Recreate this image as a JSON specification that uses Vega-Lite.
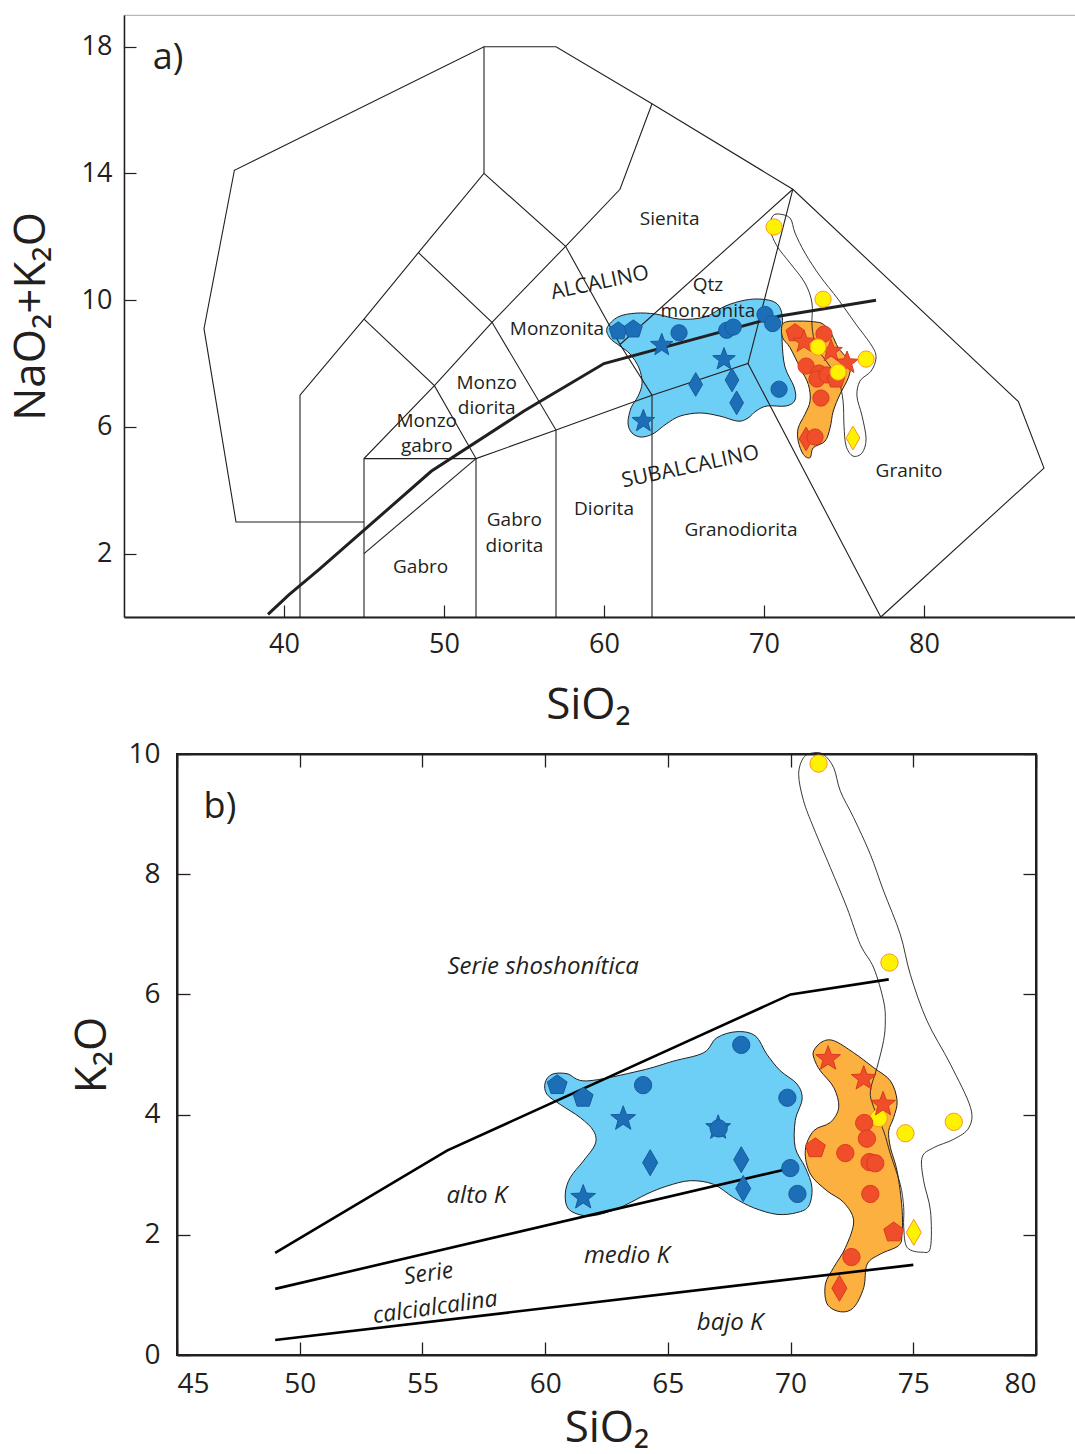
{
"$schema": "https://vega.github.io/schema/vega-lite/v6.json",
"background": "white",
"padding": {"left": 8, "top": 14, "right": 0, "bottom": 0},
"config": {
  "font": "Open Sans",
  "view": {"stroke": null},
  "axis": {"grid": false, "domainColor": "#231f20", "tickColor": "#231f20", "labelColor": "#231f20", "titleColor": "#231f20", "labelFont": "Open Sans", "titleFont": "Open Sans", "titleFontWeight": "normal"},
  "text": {"font": "Open Sans", "color": "#231f20", "align": "center", "baseline": "middle"}
},
"datasets": {
  "tasLines": [
    {"p":"o","i":0,"x":45,"y":3},{"p":"o","i":1,"x":37,"y":3},{"p":"o","i":2,"x":35,"y":9.1},{"p":"o","i":3,"x":36.9,"y":14.1},{"p":"o","i":4,"x":52.5,"y":18},{"p":"o","i":5,"x":57,"y":18},{"p":"o","i":6,"x":63,"y":16.2},{"p":"o","i":7,"x":71.8,"y":13.5},{"p":"o","i":8,"x":85.9,"y":6.8},{"p":"o","i":9,"x":87.5,"y":4.7},{"p":"o","i":10,"x":77.3,"y":0},
    {"p":"a","i":0,"x":41,"y":0},{"p":"a","i":1,"x":41,"y":7},{"p":"a","i":2,"x":45,"y":9.4},{"p":"a","i":3,"x":48.4,"y":11.5},{"p":"a","i":4,"x":52.5,"y":14},{"p":"a","i":5,"x":52.5,"y":18},
    {"p":"b","i":0,"x":45,"y":0},{"p":"b","i":1,"x":45,"y":5},{"p":"b","i":2,"x":49.4,"y":7.3},{"p":"b","i":3,"x":53,"y":9.3},{"p":"b","i":4,"x":57.6,"y":11.7},{"p":"b","i":5,"x":61,"y":13.5},{"p":"b","i":6,"x":63,"y":16.2},
    {"p":"c","i":0,"x":45,"y":9.4},{"p":"c","i":1,"x":49.4,"y":7.3},{"p":"c","i":2,"x":52,"y":5},{"p":"c","i":3,"x":52,"y":0},
    {"p":"d","i":0,"x":48.4,"y":11.5},{"p":"d","i":1,"x":53,"y":9.3},{"p":"d","i":2,"x":57,"y":5.9},{"p":"d","i":3,"x":57,"y":0},
    {"p":"e","i":0,"x":52.5,"y":14},{"p":"e","i":1,"x":57.6,"y":11.7},{"p":"e","i":2,"x":61,"y":8.6},{"p":"e","i":3,"x":63,"y":7},{"p":"e","i":4,"x":63,"y":0},
    {"p":"f","i":0,"x":45,"y":5},{"p":"f","i":1,"x":52,"y":5},{"p":"f","i":2,"x":57,"y":5.9},{"p":"f","i":3,"x":63,"y":7},{"p":"f","i":4,"x":69,"y":8},{"p":"f","i":5,"x":77.3,"y":0},
    {"p":"g","i":0,"x":69,"y":8},{"p":"g","i":1,"x":71.8,"y":13.5},
    {"p":"h","i":0,"x":61,"y":8.6},{"p":"h","i":1,"x":71.8,"y":13.5},
    {"p":"k","i":0,"x":45,"y":2},{"p":"k","i":1,"x":52,"y":5}
  ],
  "tasBold": [
    {"i":0,"x":39,"y":0.08},{"i":1,"x":40.3,"y":0.7},{"i":2,"x":42.2,"y":1.5},{"i":3,"x":49.2,"y":4.6},{"i":4,"x":55,"y":6.5},{"i":5,"x":60,"y":8},{"i":6,"x":71,"y":9.5},{"i":7,"x":77,"y":10}
  ],
  "blobsA": [
    {"b":"blue","i":0,"x":60.19,"y":9.12},{"b":"blue","i":1,"x":60.88,"y":9.47},{"b":"blue","i":2,"x":62.0,"y":9.59},{"b":"blue","i":3,"x":63.25,"y":9.56},{"b":"blue","i":4,"x":64.75,"y":9.4},{"b":"blue","i":5,"x":66.31,"y":9.47},{"b":"blue","i":6,"x":67.56,"y":9.81},{"b":"blue","i":7,"x":68.81,"y":10.0},{"b":"blue","i":8,"x":69.88,"y":10.03},{"b":"blue","i":9,"x":70.75,"y":9.91},{"b":"blue","i":10,"x":71.13,"y":9.53},{"b":"blue","i":11,"x":71.13,"y":8.71},{"b":"blue","i":12,"x":71.31,"y":7.89},{"b":"blue","i":13,"x":71.88,"y":7.26},{"b":"blue","i":14,"x":71.94,"y":6.85},{"b":"blue","i":15,"x":71.38,"y":6.66},{"b":"blue","i":16,"x":70.19,"y":6.66},{"b":"blue","i":17,"x":69.5,"y":6.5},{"b":"blue","i":18,"x":69.0,"y":6.28},{"b":"blue","i":19,"x":68.38,"y":6.18},{"b":"blue","i":20,"x":67.25,"y":6.34},{"b":"blue","i":21,"x":66.0,"y":6.44},{"b":"blue","i":22,"x":64.75,"y":6.34},{"b":"blue","i":23,"x":63.88,"y":6.09},{"b":"blue","i":24,"x":63.06,"y":5.78},{"b":"blue","i":25,"x":62.31,"y":5.68},{"b":"blue","i":26,"x":61.75,"y":5.81},{"b":"blue","i":27,"x":61.5,"y":6.12},{"b":"blue","i":28,"x":61.69,"y":6.6},{"b":"blue","i":29,"x":62.13,"y":6.97},{"b":"blue","i":30,"x":62.38,"y":7.38},{"b":"blue","i":31,"x":62.19,"y":7.86},{"b":"blue","i":32,"x":61.63,"y":8.3},{"b":"blue","i":33,"x":61.0,"y":8.55},{"b":"blue","i":34,"x":60.38,"y":8.8},
    {"b":"orange","i":0,"x":71.11,"y":9.18},{"b":"orange","i":1,"x":71.42,"y":9.32},{"b":"orange","i":2,"x":72.25,"y":9.34},{"b":"orange","i":3,"x":73.08,"y":9.32},{"b":"orange","i":4,"x":73.71,"y":9.24},{"b":"orange","i":5,"x":74.23,"y":8.92},{"b":"orange","i":6,"x":74.64,"y":8.5},{"b":"orange","i":7,"x":75.17,"y":8.18},{"b":"orange","i":8,"x":75.42,"y":7.97},{"b":"orange","i":9,"x":75.27,"y":7.55},{"b":"orange","i":10,"x":74.75,"y":7.03},{"b":"orange","i":11,"x":74.33,"y":6.5},{"b":"orange","i":12,"x":74.13,"y":5.97},{"b":"orange","i":13,"x":73.81,"y":5.55},{"b":"orange","i":14,"x":73.08,"y":5.34},{"b":"orange","i":15,"x":72.88,"y":5.03},{"b":"orange","i":16,"x":72.46,"y":5.13},{"b":"orange","i":17,"x":72.14,"y":5.55},{"b":"orange","i":18,"x":72.14,"y":5.97},{"b":"orange","i":19,"x":72.56,"y":6.4},{"b":"orange","i":20,"x":72.88,"y":6.82},{"b":"orange","i":21,"x":72.77,"y":7.34},{"b":"orange","i":22,"x":72.25,"y":7.87},{"b":"orange","i":23,"x":71.63,"y":8.5},{"b":"orange","i":24,"x":71.17,"y":8.81},
    {"b":"yellow","i":0,"x":70.88,"y":12.72},{"b":"yellow","i":1,"x":71.63,"y":12.59},{"b":"yellow","i":2,"x":71.94,"y":12.12},{"b":"yellow","i":3,"x":72.56,"y":11.49},{"b":"yellow","i":4,"x":73.5,"y":10.76},{"b":"yellow","i":5,"x":74.63,"y":10.03},{"b":"yellow","i":6,"x":75.69,"y":9.28},{"b":"yellow","i":7,"x":76.75,"y":8.55},{"b":"yellow","i":8,"x":77.0,"y":8.17},{"b":"yellow","i":9,"x":76.69,"y":7.76},{"b":"yellow","i":10,"x":76.0,"y":7.45},{"b":"yellow","i":11,"x":75.81,"y":6.97},{"b":"yellow","i":12,"x":76.13,"y":6.34},{"b":"yellow","i":13,"x":76.38,"y":5.62},{"b":"yellow","i":14,"x":76.13,"y":5.18},{"b":"yellow","i":15,"x":75.56,"y":5.08},{"b":"yellow","i":16,"x":75.13,"y":5.4},{"b":"yellow","i":17,"x":75.0,"y":6.03},{"b":"yellow","i":18,"x":74.94,"y":6.82},{"b":"yellow","i":19,"x":74.63,"y":7.51},{"b":"yellow","i":20,"x":73.88,"y":8.08},{"b":"yellow","i":21,"x":73.25,"y":8.55},{"b":"yellow","i":22,"x":73.0,"y":9.18},{"b":"yellow","i":23,"x":73.0,"y":9.91},{"b":"yellow","i":24,"x":72.56,"y":10.54},{"b":"yellow","i":25,"x":71.63,"y":11.17},{"b":"yellow","i":26,"x":70.81,"y":11.71},{"b":"yellow","i":27,"x":70.38,"y":12.24},{"b":"yellow","i":28,"x":70.5,"y":12.62}
  ],
  "ptsA": [
    {"g":"b","k":"pentagon","x":60.89,"y":9.02},{"g":"b","k":"pentagon","x":61.83,"y":9.08},{"g":"b","k":"circle","x":64.69,"y":8.97},{"g":"b","k":"circle","x":67.67,"y":9.05},{"g":"b","k":"circle","x":68.08,"y":9.15},{"g":"b","k":"circle","x":70.06,"y":9.55},{"g":"b","k":"circle","x":70.54,"y":9.26},{"g":"b","k":"circle","x":70.94,"y":7.19},{"g":"b","k":"star","x":63.61,"y":8.58},{"g":"b","k":"star","x":67.5,"y":8.13},{"g":"b","k":"star","x":62.46,"y":6.18},{"g":"b","k":"diamond","x":65.73,"y":7.34},{"g":"b","k":"diamond","x":68.0,"y":7.48},{"g":"b","k":"diamond","x":68.29,"y":6.76},
    {"g":"r","k":"pentagon","x":71.94,"y":8.96},{"g":"r","k":"star","x":72.5,"y":8.68},{"g":"r","k":"circle","x":73.75,"y":8.93},{"g":"r","k":"star","x":74.19,"y":8.39},{"g":"r","k":"star","x":75.19,"y":8.02},{"g":"r","k":"circle","x":72.63,"y":7.92},{"g":"r","k":"circle","x":73.44,"y":7.7},{"g":"r","k":"circle","x":73.31,"y":7.51},{"g":"r","k":"circle","x":73.94,"y":7.64},{"g":"r","k":"pentagon","x":74.5,"y":7.5},{"g":"r","k":"circle","x":73.56,"y":6.91},{"g":"r","k":"diamond","x":72.63,"y":5.62},{"g":"r","k":"circle","x":73.19,"y":5.68},
    {"g":"y","k":"circle","x":70.63,"y":12.31},{"g":"y","k":"circle","x":73.69,"y":10.03},{"g":"y","k":"circle","x":73.38,"y":8.52},{"g":"y","k":"circle","x":74.63,"y":7.73},{"g":"y","k":"circle","x":76.38,"y":8.14},{"g":"y","k":"diamond","x":75.56,"y":5.65}
  ],
  "labelsA": [
    {"t":"Sienita","x":64.1,"y":12.56},{"t":"Qtz","x":66.5,"y":10.48},{"t":"monzonita","x":66.5,"y":9.66},{"t":"Monzonita","x":57.06,"y":9.09},{"t":"Monzo","x":52.67,"y":7.39},{"t":"diorita","x":52.67,"y":6.6},{"t":"Monzo","x":48.92,"y":6.18},{"t":"gabro","x":48.92,"y":5.4},{"t":"Diorita","x":60,"y":3.41},{"t":"Gabro","x":54.4,"y":3.06},{"t":"diorita","x":54.4,"y":2.24},{"t":"Gabro","x":48.54,"y":1.58},{"t":"Granodiorita","x":68.56,"y":2.75},{"t":"Granito","x":79.06,"y":4.6}
  ],
  "rotA": [{"t":"ALCALINO","x":59.75,"y":10.54},{"t":"SUBALCALINO","x":65.4,"y":4.73}],
  "tagA": [{"t":"a)","x":32.75,"y":17.64}],
  "kLines": [
    {"p":"s","i":0,"x":49,"y":1.7},{"p":"s","i":1,"x":56,"y":3.4},{"p":"s","i":2,"x":70,"y":6.0},{"p":"s","i":3,"x":74,"y":6.25},
    {"p":"h","i":0,"x":49,"y":1.1},{"p":"h","i":1,"x":69.7,"y":3.08},
    {"p":"m","i":0,"x":49,"y":0.25},{"p":"m","i":1,"x":75,"y":1.5}
  ],
  "blobsB": [
    {"b":"blue","i":0,"x":60.0,"y":4.53},{"b":"blue","i":1,"x":60.28,"y":4.67},{"b":"blue","i":2,"x":60.89,"y":4.68},{"b":"blue","i":3,"x":61.7,"y":4.56},{"b":"blue","i":4,"x":63.87,"y":4.73},{"b":"blue","i":5,"x":65.23,"y":4.89},{"b":"blue","i":6,"x":66.46,"y":5.03},{"b":"blue","i":7,"x":67.0,"y":5.28},{"b":"blue","i":8,"x":67.82,"y":5.38},{"b":"blue","i":9,"x":68.56,"y":5.31},{"b":"blue","i":10,"x":69.04,"y":5.0},{"b":"blue","i":11,"x":69.58,"y":4.73},{"b":"blue","i":12,"x":70.26,"y":4.51},{"b":"blue","i":13,"x":70.47,"y":4.26},{"b":"blue","i":14,"x":70.19,"y":3.9},{"b":"blue","i":15,"x":70.19,"y":3.45},{"b":"blue","i":16,"x":70.6,"y":3.12},{"b":"blue","i":17,"x":70.87,"y":2.79},{"b":"blue","i":18,"x":70.74,"y":2.48},{"b":"blue","i":19,"x":70.26,"y":2.37},{"b":"blue","i":20,"x":69.45,"y":2.34},{"b":"blue","i":21,"x":68.49,"y":2.45},{"b":"blue","i":22,"x":67.68,"y":2.62},{"b":"blue","i":23,"x":66.86,"y":2.84},{"b":"blue","i":24,"x":65.91,"y":2.9},{"b":"blue","i":25,"x":64.96,"y":2.81},{"b":"blue","i":26,"x":64.15,"y":2.68},{"b":"blue","i":27,"x":63.19,"y":2.48},{"b":"blue","i":28,"x":62.24,"y":2.34},{"b":"blue","i":29,"x":61.56,"y":2.32},{"b":"blue","i":30,"x":60.95,"y":2.43},{"b":"blue","i":31,"x":60.82,"y":2.68},{"b":"blue","i":32,"x":61.02,"y":2.95},{"b":"blue","i":33,"x":61.56,"y":3.23},{"b":"blue","i":34,"x":62.04,"y":3.51},{"b":"blue","i":35,"x":61.97,"y":3.73},{"b":"blue","i":36,"x":61.43,"y":3.95},{"b":"blue","i":37,"x":60.61,"y":4.17},{"b":"blue","i":38,"x":60.07,"y":4.34},
    {"b":"orange","i":0,"x":70.94,"y":5.06},{"b":"orange","i":1,"x":71.28,"y":5.21},{"b":"orange","i":2,"x":71.76,"y":5.23},{"b":"orange","i":3,"x":72.57,"y":5.03},{"b":"orange","i":4,"x":73.39,"y":4.78},{"b":"orange","i":5,"x":74.07,"y":4.56},{"b":"orange","i":6,"x":74.34,"y":4.23},{"b":"orange","i":7,"x":74.2,"y":3.95},{"b":"orange","i":8,"x":74.0,"y":3.73},{"b":"orange","i":9,"x":74.07,"y":3.45},{"b":"orange","i":10,"x":74.34,"y":3.06},{"b":"orange","i":11,"x":74.54,"y":2.45},{"b":"orange","i":12,"x":74.54,"y":2.01},{"b":"orange","i":13,"x":74.4,"y":1.82},{"b":"orange","i":14,"x":73.66,"y":1.68},{"b":"orange","i":15,"x":73.12,"y":1.51},{"b":"orange","i":16,"x":72.98,"y":1.12},{"b":"orange","i":17,"x":72.57,"y":0.79},{"b":"orange","i":18,"x":72.03,"y":0.72},{"b":"orange","i":19,"x":71.49,"y":0.85},{"b":"orange","i":20,"x":71.42,"y":1.18},{"b":"orange","i":21,"x":71.76,"y":1.46},{"b":"orange","i":22,"x":72.24,"y":1.79},{"b":"orange","i":23,"x":72.57,"y":2.23},{"b":"orange","i":24,"x":72.16,"y":2.54},{"b":"orange","i":25,"x":71.49,"y":2.73},{"b":"orange","i":26,"x":70.81,"y":3.01},{"b":"orange","i":27,"x":70.6,"y":3.4},{"b":"orange","i":28,"x":70.94,"y":3.73},{"b":"orange","i":29,"x":71.62,"y":3.87},{"b":"orange","i":30,"x":71.96,"y":4.12},{"b":"orange","i":31,"x":71.76,"y":4.45},{"b":"orange","i":32,"x":71.21,"y":4.73},{"b":"orange","i":33,"x":70.97,"y":4.92},
    {"b":"yellow","i":0,"x":70.94,"y":10.02},{"b":"yellow","i":1,"x":71.35,"y":9.99},{"b":"yellow","i":2,"x":71.76,"y":9.77},{"b":"yellow","i":3,"x":72.03,"y":9.38},{"b":"yellow","i":4,"x":72.57,"y":8.94},{"b":"yellow","i":5,"x":73.25,"y":8.33},{"b":"yellow","i":6,"x":73.79,"y":7.72},{"b":"yellow","i":7,"x":74.47,"y":7.0},{"b":"yellow","i":8,"x":74.88,"y":6.33},{"b":"yellow","i":9,"x":75.56,"y":5.56},{"b":"yellow","i":10,"x":76.51,"y":4.84},{"b":"yellow","i":11,"x":77.33,"y":4.12},{"b":"yellow","i":12,"x":77.26,"y":3.78},{"b":"yellow","i":13,"x":76.65,"y":3.59},{"b":"yellow","i":14,"x":75.83,"y":3.45},{"b":"yellow","i":15,"x":75.36,"y":3.29},{"b":"yellow","i":16,"x":75.42,"y":2.9},{"b":"yellow","i":17,"x":75.7,"y":2.4},{"b":"yellow","i":18,"x":75.7,"y":1.79},{"b":"yellow","i":19,"x":75.36,"y":1.71},{"b":"yellow","i":20,"x":74.75,"y":1.79},{"b":"yellow","i":21,"x":74.61,"y":2.12},{"b":"yellow","i":22,"x":74.61,"y":2.45},{"b":"yellow","i":23,"x":74.47,"y":2.84},{"b":"yellow","i":24,"x":74.07,"y":3.34},{"b":"yellow","i":25,"x":73.79,"y":3.73},{"b":"yellow","i":26,"x":73.39,"y":4.12},{"b":"yellow","i":27,"x":73.25,"y":4.39},{"b":"yellow","i":28,"x":73.52,"y":4.78},{"b":"yellow","i":29,"x":73.79,"y":5.23},{"b":"yellow","i":30,"x":73.86,"y":5.56},{"b":"yellow","i":31,"x":73.79,"y":5.89},{"b":"yellow","i":32,"x":73.39,"y":6.44},{"b":"yellow","i":33,"x":72.84,"y":6.83},{"b":"yellow","i":34,"x":72.3,"y":7.44},{"b":"yellow","i":35,"x":71.62,"y":8.11},{"b":"yellow","i":36,"x":70.94,"y":8.77},{"b":"yellow","i":37,"x":70.53,"y":9.22},{"b":"yellow","i":38,"x":70.33,"y":9.66},{"b":"yellow","i":39,"x":70.53,"y":9.94}
  ],
  "ptsB": [
    {"g":"b","k":"pentagon","x":60.49,"y":4.49},{"g":"b","k":"pentagon","x":61.55,"y":4.28},{"g":"b","k":"circle","x":63.99,"y":4.49},{"g":"b","k":"circle","x":67.99,"y":5.16},{"g":"b","k":"circle","x":69.87,"y":4.28},{"g":"b","k":"circle","x":69.99,"y":3.11},{"g":"b","k":"circle","x":70.28,"y":2.68},{"g":"b","k":"star","x":63.18,"y":3.93},{"g":"b","k":"star","x":67.05,"y":3.78},{"g":"b","k":"circle","x":67.07,"y":3.77},{"g":"b","k":"star","x":61.55,"y":2.62},{"g":"b","k":"diamond","x":64.28,"y":3.2},{"g":"b","k":"diamond","x":67.99,"y":3.25},{"g":"b","k":"diamond","x":68.07,"y":2.77},
    {"g":"y","k":"circle","x":71.14,"y":9.84},{"g":"y","k":"circle","x":74.03,"y":6.53},{"g":"y","k":"circle","x":73.59,"y":3.94},{"g":"y","k":"circle","x":74.68,"y":3.69},{"g":"y","k":"circle","x":76.65,"y":3.88},{"g":"y","k":"diamond","x":75.02,"y":2.04},
    {"g":"r","k":"star","x":71.53,"y":4.93},{"g":"r","k":"star","x":72.98,"y":4.6},{"g":"r","k":"star","x":73.77,"y":4.17},{"g":"r","k":"circle","x":73.0,"y":3.86},{"g":"r","k":"circle","x":73.11,"y":3.6},{"g":"r","k":"circle","x":72.23,"y":3.36},{"g":"r","k":"circle","x":73.22,"y":3.21},{"g":"r","k":"circle","x":73.45,"y":3.19},{"g":"r","k":"circle","x":73.25,"y":2.68},{"g":"r","k":"circle","x":72.48,"y":1.63},{"g":"r","k":"pentagon","x":71.01,"y":3.44},{"g":"r","k":"pentagon","x":74.2,"y":2.04},{"g":"r","k":"diamond","x":71.99,"y":1.11}
  ],
  "labelsB": [{"t":"Serie shoshonítica","x":59.92,"y":6.46},{"t":"alto K","x":57.22,"y":2.65},{"t":"medio K","x":63.33,"y":1.65},{"t":"bajo K","x":67.54,"y":0.54}],
  "rotB": [{"t":"Serie","x":55.25,"y":1.35},{"t":"calcialcalina","x":55.52,"y":0.79}],
  "tagB": [{"t":"b)","x":46.75,"y":9.12}]
},
"vconcat": [
  {
    "width": 965, "height": 602,
    "view": {"stroke": "#b8b8b8", "strokeWidth": 1.2},
    "layer": [
      {"data": {"name": "blobsA"}, "transform": [{"filter": "datum.b === 'blue'"}],
       "mark": {"type": "line", "interpolate": "cardinal-closed", "fill": "#6dcff6", "stroke": "#231f20", "strokeWidth": 1},
       "encoding": {
         "x": {"field": "x", "type": "quantitative", "scale": {"domain": [30, 90.3125], "nice": false, "zero": false},
               "axis": {"values": [40, 50, 60, 70, 80], "title": "SiO₂", "titleFontSize": 44, "titlePadding": 26, "titleX": 464, "labelFontSize": 27, "tickSize": -12, "labelPadding": 26, "domainWidth": 2, "tickWidth": 1.2}},
         "y": {"field": "y", "type": "quantitative", "scale": {"domain": [0, 19], "nice": false, "zero": false},
               "axis": {"values": [2, 6, 10, 14, 18], "title": "NaO₂+K₂O", "titleFontSize": 44, "titlePadding": 28, "labelFontSize": 27, "tickSize": -12, "labelPadding": 24, "domainWidth": 1.5, "tickWidth": 1.2}},
         "order": {"field": "i", "type": "quantitative"}}},
      {"data": {"name": "blobsA"}, "transform": [{"filter": "datum.b === 'orange'"}],
       "mark": {"type": "line", "interpolate": "cardinal-closed", "fill": "#fbb040", "stroke": "#231f20", "strokeWidth": 1},
       "encoding": {"x": {"field": "x", "type": "quantitative"}, "y": {"field": "y", "type": "quantitative"}, "order": {"field": "i", "type": "quantitative"}}},
      {"data": {"name": "tasLines"},
       "mark": {"type": "line", "stroke": "#231f20", "strokeWidth": 1.1},
       "encoding": {"x": {"field": "x", "type": "quantitative"}, "y": {"field": "y", "type": "quantitative"}, "detail": {"field": "p"}, "order": {"field": "i", "type": "quantitative"}}},
      {"data": {"name": "blobsA"}, "transform": [{"filter": "datum.b === 'yellow'"}],
       "mark": {"type": "line", "interpolate": "cardinal-closed", "stroke": "#231f20", "strokeWidth": 0.9},
       "encoding": {"x": {"field": "x", "type": "quantitative"}, "y": {"field": "y", "type": "quantitative"}, "order": {"field": "i", "type": "quantitative"}}},
      {"data": {"name": "tasBold"},
       "mark": {"type": "line", "stroke": "#231f20", "strokeWidth": 3},
       "encoding": {"x": {"field": "x", "type": "quantitative"}, "y": {"field": "y", "type": "quantitative"}, "order": {"field": "i", "type": "quantitative"}}},
      {"data": {"name": "labelsA"},
       "mark": {"type": "text", "fontSize": 19},
       "encoding": {"x": {"field": "x", "type": "quantitative"}, "y": {"field": "y", "type": "quantitative"}, "text": {"field": "t"}}},
      {"data": {"name": "rotA"},
       "mark": {"type": "text", "fontSize": 21, "angle": -12},
       "encoding": {"x": {"field": "x", "type": "quantitative"}, "y": {"field": "y", "type": "quantitative"}, "text": {"field": "t"}}},
      {"data": {"name": "tagA"},
       "mark": {"type": "text", "fontSize": 36},
       "encoding": {"x": {"field": "x", "type": "quantitative"}, "y": {"field": "y", "type": "quantitative"}, "text": {"field": "t"}}},
      {"data": {"name": "ptsA"},
       "mark": {"type": "point", "filled": true, "opacity": 1, "strokeWidth": 1, "size": 560},
       "encoding": {
         "x": {"field": "x", "type": "quantitative"}, "y": {"field": "y", "type": "quantitative"},
         "shape": {"field": "k", "type": "nominal", "legend": null, "scale": {"domain": ["circle", "pentagon", "star", "diamond"], "range": ["M0.68,0A0.68,0.68,0,1,1,-0.68,0A0.68,0.68,0,1,1,0.68,0Z", "M0,-0.8L0.761,-0.247L0.47,0.647L-0.47,0.647L-0.761,-0.247Z", "M0,-1L0.247,-0.34L0.951,-0.309L0.399,0.13L0.588,0.809L0,0.42L-0.588,0.809L-0.399,0.13L-0.951,-0.309L-0.247,-0.34Z", "M0,-1L0.58,0L0,1L-0.58,0Z"]}},
         "fill": {"field": "g", "type": "nominal", "legend": null, "scale": {"domain": ["b", "r", "y"], "range": ["#1c6fb6", "#f04e2b", "#fff200"]}},
         "stroke": {"field": "g", "type": "nominal", "legend": null, "scale": {"domain": ["b", "r", "y"], "range": ["#1a5a9c", "#d93a1e", "#f7941d"]}}}}
    ]
  },
  {
    "width": 859, "height": 601,
    "view": {"stroke": "#231f20", "strokeWidth": 2},
    "resolve": {"axis": {"x": "independent", "y": "independent"}},
    "layer": [
      {"data": {"name": "blobsB"}, "transform": [{"filter": "datum.b === 'blue'"}],
       "mark": {"type": "line", "interpolate": "cardinal-closed", "fill": "#6dcff6", "stroke": "#231f20", "strokeWidth": 1},
       "encoding": {
         "x": {"field": "x", "type": "quantitative", "scale": {"domain": [45, 80], "nice": false, "zero": false}, "axis": null},
         "y": {"field": "y", "type": "quantitative", "scale": {"domain": [0, 10], "nice": false, "zero": false}, "axis": null},
         "order": {"field": "i", "type": "quantitative"}}},
      {"data": {"name": "blobsB"}, "transform": [{"filter": "datum.b === 'orange'"}],
       "mark": {"type": "line", "interpolate": "cardinal-closed", "fill": "#fbb040", "stroke": "#231f20", "strokeWidth": 1},
       "encoding": {"x": {"field": "x", "type": "quantitative", "axis": null}, "y": {"field": "y", "type": "quantitative", "axis": null}, "order": {"field": "i", "type": "quantitative"}}},
      {"data": {"name": "blobsB"}, "transform": [{"filter": "datum.b === 'yellow'"}],
       "mark": {"type": "line", "interpolate": "cardinal-closed", "stroke": "#231f20", "strokeWidth": 0.9},
       "encoding": {"x": {"field": "x", "type": "quantitative", "axis": null}, "y": {"field": "y", "type": "quantitative", "axis": null}, "order": {"field": "i", "type": "quantitative"}}},
      {"data": {"name": "kLines"},
       "mark": {"type": "line", "stroke": "#000000", "strokeWidth": 2.6},
       "encoding": {
         "x": {"field": "x", "type": "quantitative", "axis": {"values": [45, 50, 55, 60, 65, 70, 75, 80], "title": "SiO₂", "titleFontSize": 44, "titlePadding": 8, "labelFontSize": 28, "tickSize": -13, "labelPadding": 28, "domainWidth": 2, "tickWidth": 1.3}},
         "y": {"field": "y", "type": "quantitative", "axis": {"values": [0, 2, 4, 6, 8, 10], "title": "K₂O", "titleFontSize": 44, "titlePadding": 13, "labelFontSize": 28, "tickSize": -13, "labelPadding": 30, "domainWidth": 2, "tickWidth": 1.3}},
         "detail": {"field": "p"}, "order": {"field": "i", "type": "quantitative"}}},
      {"data": {"name": "labelsB"},
       "mark": {"type": "text", "fontSize": 24, "fontStyle": "italic"},
       "encoding": {"x": {"field": "x", "type": "quantitative", "axis": null}, "y": {"field": "y", "type": "quantitative", "axis": null}, "text": {"field": "t"}}},
      {"data": {"name": "rotB"},
       "mark": {"type": "text", "fontSize": 23, "fontStyle": "italic", "angle": -8},
       "encoding": {"x": {"field": "x", "type": "quantitative", "axis": null}, "y": {"field": "y", "type": "quantitative", "axis": null}, "text": {"field": "t"}}},
      {"data": {"name": "tagB"},
       "mark": {"type": "text", "fontSize": 36},
       "encoding": {"x": {"field": "x", "type": "quantitative", "axis": null}, "y": {"field": "y", "type": "quantitative", "axis": null}, "text": {"field": "t"}}},
      {"data": {"name": "ptsB"},
       "mark": {"type": "point", "filled": true, "opacity": 1, "strokeWidth": 1, "size": 676},
       "encoding": {
         "x": {"field": "x", "type": "quantitative", "axis": {"orient": "top", "values": [45, 50, 55, 60, 65, 70, 75, 80], "labels": false, "title": null, "tickSize": -13, "domainWidth": 2, "tickWidth": 1.3}},
         "y": {"field": "y", "type": "quantitative", "axis": {"orient": "right", "values": [0, 2, 4, 6, 8, 10], "labels": false, "title": null, "tickSize": -13, "domainWidth": 2, "tickWidth": 1.3}},
         "shape": {"field": "k", "type": "nominal", "legend": null, "scale": {"domain": ["circle", "pentagon", "star", "diamond"], "range": ["M0.66,0A0.66,0.66,0,1,1,-0.66,0A0.66,0.66,0,1,1,0.66,0Z", "M0,-0.8L0.761,-0.247L0.47,0.647L-0.47,0.647L-0.761,-0.247Z", "M0,-1L0.247,-0.34L0.951,-0.309L0.399,0.13L0.588,0.809L0,0.42L-0.588,0.809L-0.399,0.13L-0.951,-0.309L-0.247,-0.34Z", "M0,-1L0.58,0L0,1L-0.58,0Z"]}},
         "fill": {"field": "g", "type": "nominal", "legend": null, "scale": {"domain": ["b", "r", "y"], "range": ["#1c6fb6", "#f04e2b", "#fff200"]}},
         "stroke": {"field": "g", "type": "nominal", "legend": null, "scale": {"domain": ["b", "r", "y"], "range": ["#1a5a9c", "#d93a1e", "#f7941d"]}}}}
    ]
  }
],
"spacing": 137,
"bounds": "flush",
"center": true,
"resolve": {"scale": {"x": "independent", "y": "independent", "shape": "independent", "fill": "independent", "stroke": "independent"}}
}
